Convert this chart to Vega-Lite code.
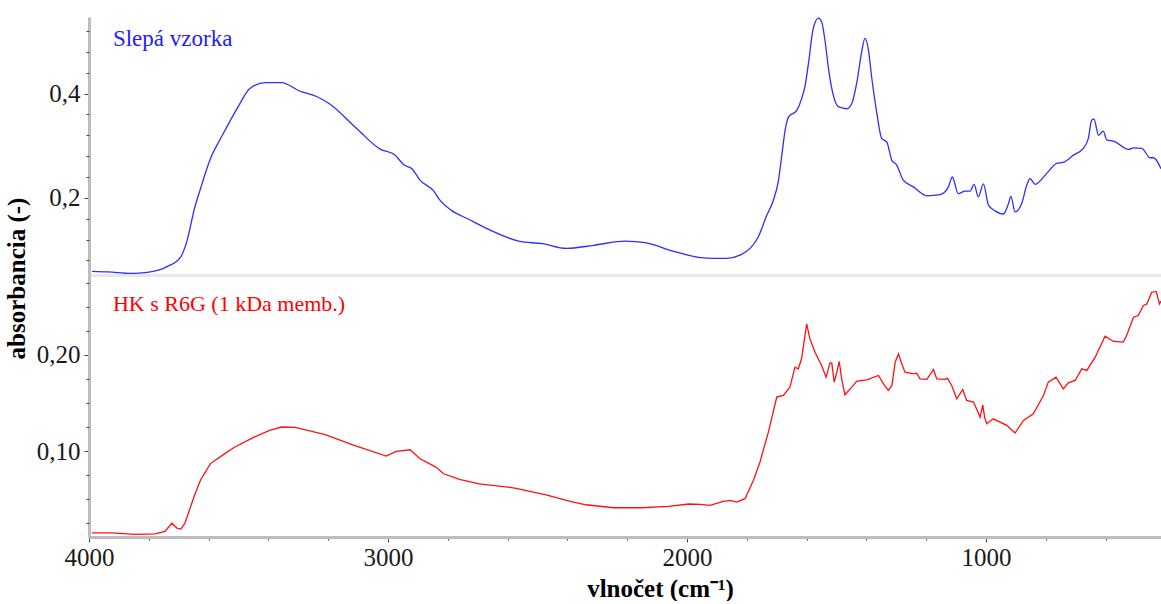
{
  "$schema": "https://vega.github.io/schema/vega-lite/v6.json",
  "background": "white",
  "padding": {"left": 4, "top": 15, "right": 0, "bottom": 0},
  "spacing": 0,
  "bounds": "flush",
  "config": {
    "view": {"stroke": null},
    "axis": {
      "grid": false,
      "domainColor": "#bdbdbd",
      "domainWidth": 3,
      "tickColor": "#444444",
      "tickWidth": 1,
      "labelFont": "Liberation Serif",
      "labelFontSize": 25,
      "labelColor": "#1a1a1a",
      "labelPadding": 4,
      "labelOverlap": false,
      "labelFlush": false,
      "titleFont": "Liberation Serif",
      "titleFontSize": 25,
      "titleFontWeight": "bold",
      "titleColor": "#000000"
    }
  },
  "datasets": {
    "blue": [
      {"wn": 3990, "a": 0.059}, {"wn": 3937, "a": 0.058}, {"wn": 3858, "a": 0.055}, {"wn": 3805, "a": 0.057},
      {"wn": 3739, "a": 0.068}, {"wn": 3693, "a": 0.087}, {"wn": 3673, "a": 0.116}, {"wn": 3647, "a": 0.180},
      {"wn": 3627, "a": 0.218}, {"wn": 3594, "a": 0.275}, {"wn": 3554, "a": 0.320}, {"wn": 3501, "a": 0.375},
      {"wn": 3462, "a": 0.410}, {"wn": 3409, "a": 0.421}, {"wn": 3356, "a": 0.421}, {"wn": 3296, "a": 0.405},
      {"wn": 3237, "a": 0.394}, {"wn": 3197, "a": 0.381}, {"wn": 3105, "a": 0.333}, {"wn": 3025, "a": 0.293},
      {"wn": 2979, "a": 0.283}, {"wn": 2946, "a": 0.263}, {"wn": 2920, "a": 0.256}, {"wn": 2893, "a": 0.234},
      {"wn": 2847, "a": 0.213}, {"wn": 2827, "a": 0.196}, {"wn": 2788, "a": 0.176}, {"wn": 2734, "a": 0.160},
      {"wn": 2655, "a": 0.137}, {"wn": 2563, "a": 0.117}, {"wn": 2483, "a": 0.112}, {"wn": 2404, "a": 0.103},
      {"wn": 2312, "a": 0.109}, {"wn": 2206, "a": 0.117}, {"wn": 2140, "a": 0.114}, {"wn": 2047, "a": 0.098},
      {"wn": 1961, "a": 0.086}, {"wn": 1912, "a": 0.084}, {"wn": 1867, "a": 0.084}, {"wn": 1823, "a": 0.090},
      {"wn": 1789, "a": 0.103}, {"wn": 1762, "a": 0.125}, {"wn": 1733, "a": 0.167}, {"wn": 1711, "a": 0.196},
      {"wn": 1695, "a": 0.231}, {"wn": 1683, "a": 0.282}, {"wn": 1672, "a": 0.330}, {"wn": 1661, "a": 0.355},
      {"wn": 1633, "a": 0.368}, {"wn": 1617, "a": 0.390}, {"wn": 1605, "a": 0.416}, {"wn": 1594, "a": 0.458},
      {"wn": 1578, "a": 0.525}, {"wn": 1561, "a": 0.545}, {"wn": 1550, "a": 0.538}, {"wn": 1538, "a": 0.499},
      {"wn": 1527, "a": 0.448}, {"wn": 1511, "a": 0.397}, {"wn": 1494, "a": 0.375}, {"wn": 1466, "a": 0.371},
      {"wn": 1449, "a": 0.381}, {"wn": 1432, "a": 0.422}, {"wn": 1416, "a": 0.480}, {"wn": 1405, "a": 0.506},
      {"wn": 1394, "a": 0.486}, {"wn": 1382, "a": 0.429}, {"wn": 1366, "a": 0.365}, {"wn": 1349, "a": 0.314},
      {"wn": 1332, "a": 0.307}, {"wn": 1315, "a": 0.272}, {"wn": 1299, "a": 0.263}, {"wn": 1277, "a": 0.234},
      {"wn": 1243, "a": 0.221}, {"wn": 1198, "a": 0.204}, {"wn": 1154, "a": 0.206}, {"wn": 1126, "a": 0.221},
      {"wn": 1113, "a": 0.240}, {"wn": 1093, "a": 0.208}, {"wn": 1070, "a": 0.213}, {"wn": 1054, "a": 0.213},
      {"wn": 1040, "a": 0.226}, {"wn": 1026, "a": 0.202}, {"wn": 1009, "a": 0.227}, {"wn": 992, "a": 0.186},
      {"wn": 970, "a": 0.175}, {"wn": 942, "a": 0.169}, {"wn": 925, "a": 0.189}, {"wn": 917, "a": 0.203},
      {"wn": 903, "a": 0.173}, {"wn": 881, "a": 0.189}, {"wn": 864, "a": 0.224}, {"wn": 853, "a": 0.237},
      {"wn": 836, "a": 0.226}, {"wn": 797, "a": 0.247}, {"wn": 764, "a": 0.266}, {"wn": 742, "a": 0.268},
      {"wn": 708, "a": 0.282}, {"wn": 675, "a": 0.295}, {"wn": 658, "a": 0.314}, {"wn": 647, "a": 0.349},
      {"wn": 639, "a": 0.351}, {"wn": 624, "a": 0.320}, {"wn": 608, "a": 0.328}, {"wn": 596, "a": 0.311},
      {"wn": 574, "a": 0.309}, {"wn": 524, "a": 0.293}, {"wn": 507, "a": 0.296}, {"wn": 479, "a": 0.295},
      {"wn": 452, "a": 0.277}, {"wn": 440, "a": 0.277}, {"wn": 415, "a": 0.256}
    ],
    "red": [
      {"wn": 3990, "a": 0.0150}, {"wn": 3924, "a": 0.0150}, {"wn": 3845, "a": 0.0135}, {"wn": 3779, "a": 0.0140},
      {"wn": 3746, "a": 0.0166}, {"wn": 3723, "a": 0.0250}, {"wn": 3706, "a": 0.0200}, {"wn": 3693, "a": 0.0190},
      {"wn": 3680, "a": 0.0245}, {"wn": 3647, "a": 0.0540}, {"wn": 3627, "a": 0.0700}, {"wn": 3594, "a": 0.0870},
      {"wn": 3554, "a": 0.0955}, {"wn": 3514, "a": 0.1040}, {"wn": 3448, "a": 0.1145}, {"wn": 3396, "a": 0.1215},
      {"wn": 3356, "a": 0.1250}, {"wn": 3310, "a": 0.1246}, {"wn": 3210, "a": 0.1170}, {"wn": 3118, "a": 0.1065},
      {"wn": 3006, "a": 0.0948}, {"wn": 2973, "a": 0.0997}, {"wn": 2926, "a": 0.1014}, {"wn": 2893, "a": 0.0920},
      {"wn": 2840, "a": 0.0834}, {"wn": 2814, "a": 0.0764}, {"wn": 2761, "a": 0.0706}, {"wn": 2695, "a": 0.0660},
      {"wn": 2576, "a": 0.0616}, {"wn": 2471, "a": 0.0546}, {"wn": 2391, "a": 0.0478}, {"wn": 2338, "a": 0.0442},
      {"wn": 2246, "a": 0.0411}, {"wn": 2153, "a": 0.0411}, {"wn": 2061, "a": 0.0426}, {"wn": 1994, "a": 0.0450},
      {"wn": 1957, "a": 0.0447}, {"wn": 1923, "a": 0.0436}, {"wn": 1879, "a": 0.0478}, {"wn": 1856, "a": 0.0488},
      {"wn": 1834, "a": 0.0470}, {"wn": 1806, "a": 0.0505}, {"wn": 1778, "a": 0.0696}, {"wn": 1756, "a": 0.0886},
      {"wn": 1728, "a": 0.1197}, {"wn": 1700, "a": 0.1561}, {"wn": 1678, "a": 0.1578}, {"wn": 1656, "a": 0.1665},
      {"wn": 1639, "a": 0.1872}, {"wn": 1628, "a": 0.1855}, {"wn": 1617, "a": 0.1959}, {"wn": 1600, "a": 0.2322},
      {"wn": 1589, "a": 0.2166}, {"wn": 1572, "a": 0.2028}, {"wn": 1550, "a": 0.1890}, {"wn": 1535, "a": 0.1768},
      {"wn": 1522, "a": 0.1917}, {"wn": 1516, "a": 0.1917}, {"wn": 1508, "a": 0.1717}, {"wn": 1499, "a": 0.1820},
      {"wn": 1491, "a": 0.1931}, {"wn": 1483, "a": 0.1751}, {"wn": 1472, "a": 0.1585}, {"wn": 1449, "a": 0.1665},
      {"wn": 1432, "a": 0.1727}, {"wn": 1399, "a": 0.1740}, {"wn": 1360, "a": 0.1786}, {"wn": 1343, "a": 0.1699},
      {"wn": 1327, "a": 0.1630}, {"wn": 1315, "a": 0.1682}, {"wn": 1304, "a": 0.1924}, {"wn": 1293, "a": 0.2010},
      {"wn": 1282, "a": 0.1907}, {"wn": 1271, "a": 0.1820}, {"wn": 1243, "a": 0.1803}, {"wn": 1232, "a": 0.1810},
      {"wn": 1221, "a": 0.1751}, {"wn": 1198, "a": 0.1745}, {"wn": 1176, "a": 0.1848}, {"wn": 1165, "a": 0.1751},
      {"wn": 1137, "a": 0.1745}, {"wn": 1129, "a": 0.1758}, {"wn": 1115, "a": 0.1682}, {"wn": 1098, "a": 0.1543},
      {"wn": 1078, "a": 0.1640}, {"wn": 1065, "a": 0.1526}, {"wn": 1042, "a": 0.1509}, {"wn": 1020, "a": 0.1353},
      {"wn": 1011, "a": 0.1481}, {"wn": 1005, "a": 0.1353}, {"wn": 998, "a": 0.1284}, {"wn": 976, "a": 0.1335},
      {"wn": 931, "a": 0.1267}, {"wn": 903, "a": 0.1187}, {"wn": 875, "a": 0.1319}, {"wn": 842, "a": 0.1388},
      {"wn": 808, "a": 0.1578}, {"wn": 792, "a": 0.1717}, {"wn": 766, "a": 0.1768}, {"wn": 742, "a": 0.1647},
      {"wn": 725, "a": 0.1709}, {"wn": 702, "a": 0.1734}, {"wn": 680, "a": 0.1855}, {"wn": 663, "a": 0.1838},
      {"wn": 635, "a": 0.1976}, {"wn": 602, "a": 0.2194}, {"wn": 574, "a": 0.2139}, {"wn": 541, "a": 0.2132},
      {"wn": 530, "a": 0.2201}, {"wn": 507, "a": 0.2391}, {"wn": 491, "a": 0.2409}, {"wn": 474, "a": 0.2513},
      {"wn": 463, "a": 0.2527}, {"wn": 446, "a": 0.2651}, {"wn": 431, "a": 0.2659}, {"wn": 420, "a": 0.2530},
      {"wn": 415, "a": 0.2560}
    ]
  },
  "vconcat": [
    {
      "width": 1072,
      "height": 258,
      "resolve": {"axis": {"y": "independent"}},
      "layer": [
        {
          "data": {"name": "blue"},
          "mark": {"type": "line", "color": "#2e2eff", "strokeWidth": 1.3, "interpolate": "monotone"},
          "encoding": {
            "x": {
              "field": "wn", "type": "quantitative",
              "scale": {"domain": [415, 4000], "reverse": true, "nice": false, "zero": false},
              "axis": {"domainColor": "#e8e8e8", "domainWidth": 3, "ticks": false, "labels": false, "title": null}
            },
            "y": {
              "field": "a", "type": "quantitative",
              "scale": {"domain": [0.052, 0.547], "nice": false, "zero": false},
              "axis": {
                "orient": "left",
                "values": [0.2, 0.4],
                "labelExpr": "replace(format(datum.value, '.1f'), '.', ',')",
                "tickSize": 5,
                "title": "absorbancia (-)",
                "titleX": -65,
                "titleY": 261,
                "titleAngle": 270,
                "titleAlign": "center",
                "titleBaseline": "alphabetic"
              }
            }
          }
        },
        {
          "data": {"values": [{"wn": 3920, "a": 0.4915, "label": "Slepá vzorka"}]},
          "mark": {"type": "text", "align": "left", "baseline": "alphabetic", "font": "Liberation Serif", "fontSize": 23, "color": "#2020ff"},
          "encoding": {
            "x": {"field": "wn", "type": "quantitative"},
            "y": {
              "field": "a", "type": "quantitative",
              "axis": {
                "orient": "left",
                "values": [0.08, 0.12, 0.16, 0.24, 0.28, 0.32, 0.36, 0.44, 0.48, 0.52],
                "labels": false,
                "domain": false,
                "tickSize": 3,
                "title": null
              }
            },
            "text": {"field": "label"}
          }
        }
      ]
    },
    {
      "width": 1072,
      "height": 262,
      "resolve": {"axis": {"y": "independent"}},
      "layer": [
        {
          "data": {"name": "red"},
          "mark": {"type": "line", "color": "#ff1010", "strokeWidth": 1.3},
          "encoding": {
            "x": {
              "field": "wn", "type": "quantitative",
              "scale": {"domain": [415, 4000], "reverse": true, "nice": false, "zero": false},
              "axis": {
                "values": [600, 800, 1000, 1200, 1400, 1600, 1800, 2000, 2200, 2400, 2600, 2800, 3000, 3200, 3400, 3600, 3800, 4000],
                "labelExpr": "datum.value % 1000 === 0 ? format(datum.value, 'd') : ''",
                "tickSize": {"condition": {"test": "datum.value % 1000 === 0", "value": 5}, "value": 3},
                "labelPadding": 3,
                "title": "vlnočet (cm⁻¹)",
                "titleX": 571,
                "titleY": 59,
                "titleAlign": "center",
                "titleBaseline": "alphabetic"
              }
            },
            "y": {
              "field": "a", "type": "quantitative",
              "scale": {"domain": [0.0107, 0.283], "nice": false, "zero": false},
              "axis": {
                "orient": "left",
                "values": [0.1, 0.2],
                "labelExpr": "replace(format(datum.value, '.2f'), '.', ',')",
                "tickSize": 5,
                "title": null
              }
            }
          }
        },
        {
          "data": {"values": [{"wn": 3920, "a": 0.2454, "label": "HK s R6G (1 kDa memb.)"}]},
          "mark": {"type": "text", "align": "left", "baseline": "alphabetic", "font": "Liberation Serif", "fontSize": 22, "color": "#ff0000"},
          "encoding": {
            "x": {"field": "wn", "type": "quantitative"},
            "y": {
              "field": "a", "type": "quantitative",
              "axis": {
                "orient": "left",
                "values": [0.025, 0.05, 0.075, 0.125, 0.15, 0.175, 0.225, 0.25, 0.275],
                "labels": false,
                "domain": false,
                "tickSize": 3,
                "title": null
              }
            },
            "text": {"field": "label"}
          }
        }
      ]
    }
  ]
}
